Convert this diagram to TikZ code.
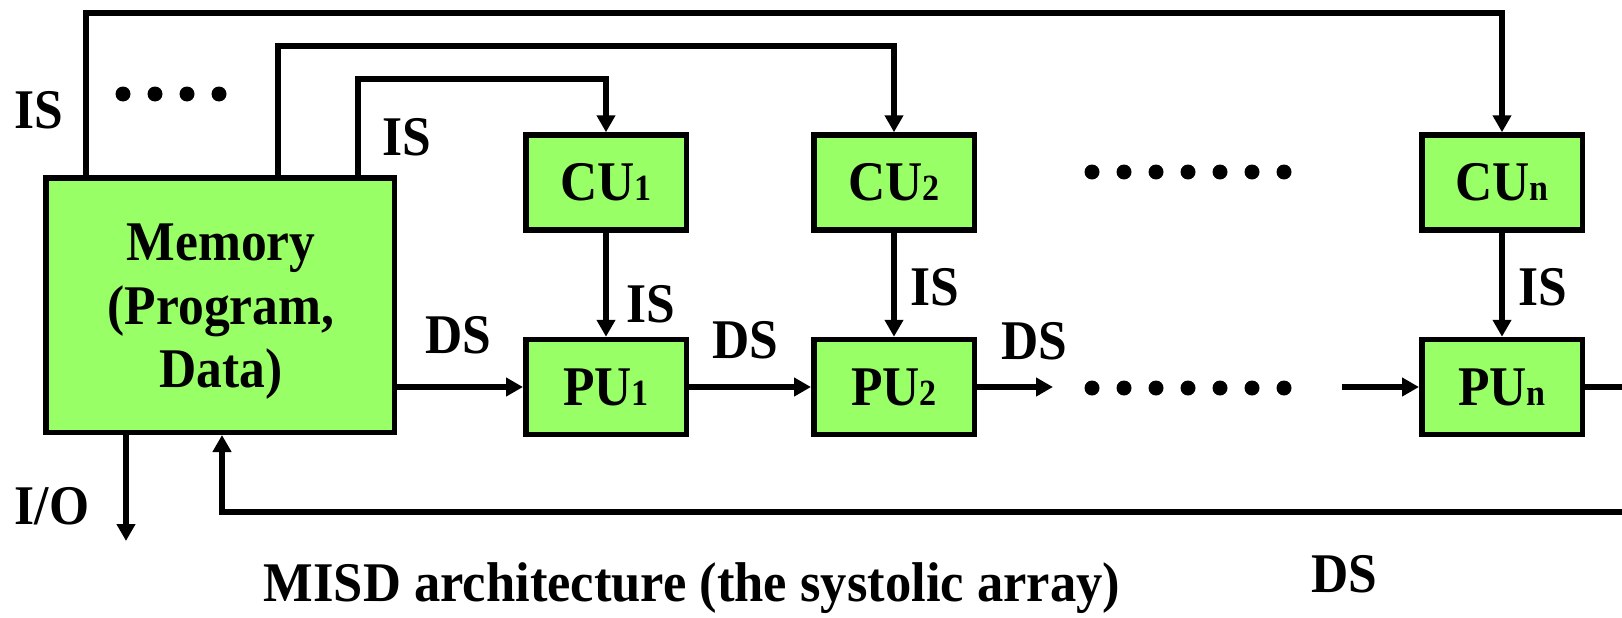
\documentclass[tikz,border=0pt]{standalone}
\usepackage{fontspec}
\usepackage{graphicx}
\setmainfont{Liberation Serif}[FakeStretch=0.92]
\usetikzlibrary{arrows.meta}

\definecolor{boxgreen}{RGB}{153,255,102}
\newcommand\lblfont{\fontsize{56}{63.5}\selectfont\bfseries}
\newcommand\unitidx[1]{{\fontsize{37}{40}\selectfont #1}}

\tikzset{
  unitbox/.style={draw, fill=boxgreen, line width=5.5pt, inner sep=0pt,
                  minimum width=160.5pt, minimum height=95pt, font=\lblfont},
  flow/.style={line width=5.5pt, -{Triangle[length=17pt,width=18pt]}},
  wire/.style={line width=5.5pt},
  tag/.style={anchor=base, inner sep=0pt, font=\lblfont},
}

\begin{document}
\begin{tikzpicture}[x=1pt, y=-1pt]
  \path[fill=white, use as bounding box] (0,0) rectangle (1622,618);

  % memory block and its caption text
  \node[unitbox, minimum width=348.5pt, minimum height=254.5pt]
    (mem) at (220,305) {};
  \node[font=\lblfont, align=center, inner sep=0pt] (memtxt) at (221,312)
    {Memory\\(Program,\\Data)};

  % control units and processing units
  \node[unitbox] (cu1) at (606,182.5) {CU\unitidx{1}};
  \node[unitbox] (pu1) at (606,387)   {PU\unitidx{1}};
  \node[unitbox] (cu2) at (894,182.5) {CU\unitidx{2}};
  \node[unitbox] (pu2) at (894,387)   {PU\unitidx{2}};
  \node[unitbox] (cun) at (1502,182.5) {CU\unitidx{n}};
  \node[unitbox] (pun) at (1502,387)   {PU\unitidx{n}};

  % instruction streams from memory to the control units
  \coordinate (j1) at (86,13);
  \coordinate (j2) at (278,46);
  \coordinate (j3) at (358,79);
  \draw[flow] (j1 |- mem.north) -- (j1) -| (cun.north);
  \draw[flow] (j2 |- mem.north) -- (j2) -| (cu2.north);
  \draw[flow] (j3 |- mem.north) -- (j3) -| (cu1.north);

  % control unit to processing unit
  \draw[flow] (cu1) -- (pu1);
  \draw[flow] (cu2) -- (pu2);
  \draw[flow] (cun) -- (pun);

  % data stream through the array
  \draw[flow] (mem.east |- pu1.west) -- (pu1.west);
  \draw[flow] (pu1) -- (pu2);
  \coordinate (o2) at (1053,387);
  \draw[flow] (pu2.east) -- (o2);
  \coordinate (inn) at (1342,387);
  \draw[flow] (inn) -- (pun.west);
  \coordinate (outr) at (1622,387);
  \draw[wire] (pun.east) -- (outr);

  % feedback data stream back to memory
  \coordinate (fbr) at (1622,512);
  \coordinate (fbl) at (222,512);
  \draw[flow] (fbr) -- (fbl) -- (fbl |- mem.south);

  % input / output
  \coordinate (io) at (126,541);
  \draw[flow] (io |- mem.south) -- (io);

  % ellipses
  \foreach \x in {123,155,187,219} \fill (\x,94) circle (7.5pt);
  \foreach \x in {1092,1124,1156,1188,1220,1252,1284} {
    \fill (\x,172) circle (7.5pt);
    \fill (\x,388) circle (7.5pt);
  }

  % stream labels
  \node[tag] (isa) at (38.5,128) {IS};
  \node[tag] (isb) at (406.5,155) {IS};
  \node[tag] (is1) at (651,322) {IS};
  \node[tag] (is2) at (935,305) {IS};
  \node[tag] (isn) at (1543,305) {IS};
  \node[tag] (ds0) at (458.5,353) {DS};
  \node[tag] (ds1) at (745.5,358) {DS};
  \node[tag] (ds2) at (1034.5,359) {DS};
  \node[tag] (dsb) at (1344,592) {DS};
  \node[tag] (iol) at (52,524) {I/O};

  % caption
  \node[tag] (cap) at (692,601)
    {\scalebox{1.02}[1]{MISD architecture (the systolic array)}};
\end{tikzpicture}
\end{document}
